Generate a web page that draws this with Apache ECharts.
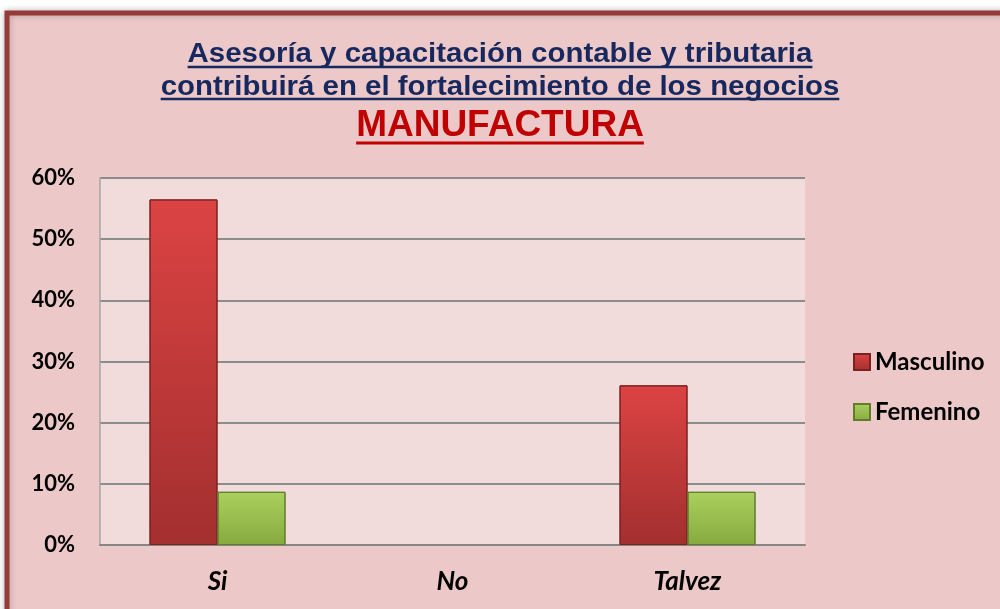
<!DOCTYPE html>
<html>
<head>
<meta charset="utf-8">
<script src="https://cdn.jsdelivr.net/npm/echarts@6/dist/echarts.min.js"></script>
<style>
  html, body { margin: 0; padding: 0; background: #fff; }
  #chart { width: 1000px; height: 609px; }
</style>
</head>
<body>
<div id="chart"></div>
<script>
(function() {
    // datos del grafico
    var categorias = ['Si', 'No', 'Talvez'];
    var masculino = [56.5, 0, 26.1];
    var femenino = [8.7, 0, 8.7];
    var titulo1 = 'Asesoría y capacitación contable y tributaria';
    var titulo2 = 'contribuirá en el fortalecimiento de los negocios';
    var titulo3 = 'MANUFACTURA';

    var chart = echarts.init(document.getElementById('chart'));

    // medir el texto para dibujar el subrayado
    var ctx = document.createElement('canvas').getContext('2d');
    function ancho(txt, font) {
        ctx.font = font;
        return ctx.measureText(txt).width;
    }
    var f1 = 'bold 27px "Liberation Sans"';
    var f3 = 'bold 37px "Liberation Sans"';
    var esc = 1.09; // el titulo original es algo mas ancho
    var w1 = ancho(titulo1, f1) * esc, w2 = ancho(titulo2, f1) * esc, w3 = ancho(titulo3, f3);

    function subrayado(w, y, color, grosor) {
        return {
            type: 'line',
            shape: { x1: 500 - w / 2, y1: y, x2: 500 + w / 2, y2: y },
            style: { stroke: color, lineWidth: grosor },
            z: 10
        };
    }
    function texto(txt, y, font, color, sx) {
        return {
            type: 'text',
            x: 500, y: y,
            scaleX: sx,
            style: { text: txt, font: font, fill: color, align: 'center', verticalAlign: 'middle' },
            z: 10
        };
    }

    // barras en cero no se dibujan
    function sinCero(arr) {
        return arr.map(function(v) {
            return v === 0 ? { value: 0, itemStyle: { borderWidth: 0, opacity: 0 } } : v;
        });
    }

    var option = {
        backgroundColor: '#ffffff',
        graphic: [
            {
                type: 'rect',
                shape: { x: 7, y: 13, width: 1010, height: 620 },
                style: { fill: '#ecc8c8', stroke: '#963a38', lineWidth: 5,
                         shadowBlur: 6, shadowColor: 'rgba(0,0,0,0.25)' },
                z: -10
            },
            texto(titulo1, 55, f1, '#17285e', esc),
            texto(titulo2, 88, f1, '#17285e', esc),
            texto(titulo3, 126, f3, '#c00000', 1),
            subrayado(w1, 67, '#17285e', 2.5),
            subrayado(w2, 99, '#17285e', 2.5),
            subrayado(w3, 143, '#c00000', 3)
        ],
        legend: {
            orient: 'vertical',
            left: 848,
            top: 345,
            itemWidth: 16,
            itemHeight: 16,
            itemGap: 26,
            icon: 'rect',
            textStyle: {
                fontFamily: 'Lato',
                fontWeight: 'bold',
                fontSize: 24,
                color: '#000'
            },
            data: ['Masculino', 'Femenino']
        },
        grid: {
            left: 100,
            top: 178,
            right: 195,
            bottom: 64,
            show: true,
            backgroundColor: '#f2dcdb',
            borderWidth: 0
        },
        xAxis: {
            type: 'category',
            data: categorias,
            axisTick: { show: false },
            axisLine: { lineStyle: { color: '#868686', width: 2 } },
            axisLabel: {
                margin: 24,
                fontFamily: 'Lato',
                fontWeight: 'bold',
                fontStyle: 'italic',
                fontSize: 26,
                color: '#000'
            }
        },
        yAxis: {
            type: 'value',
            min: 0,
            max: 60,
            interval: 10,
            axisLine: { show: true, lineStyle: { color: '#a6a6a6', width: 1.5 } },
            axisTick: { show: false },
            splitLine: { lineStyle: { color: '#8c8c8c', width: 2 } },
            axisLabel: {
                margin: 25,
                formatter: '{value}%',
                fontFamily: 'Lato',
                fontWeight: 'bold',
                fontSize: 22,
                color: '#000'
            }
        },
        series: [{
            name: 'Masculino',
            type: 'bar',
            data: sinCero(masculino),
            barWidth: 68,
            barGap: '0%',
            itemStyle: {
                color: new echarts.graphic.LinearGradient(0, 0, 0, 1, [
                    { offset: 0, color: '#dc4343' },
                    { offset: 1, color: '#a32f2f' }
                ]),
                borderColor: '#7a2222',
                borderWidth: 1
            }
        }, {
            name: 'Femenino',
            type: 'bar',
            data: sinCero(femenino),
            barWidth: 68,
            itemStyle: {
                color: new echarts.graphic.LinearGradient(0, 0, 0, 1, [
                    { offset: 0, color: '#acd05e' },
                    { offset: 1, color: '#86aa3e' }
                ]),
                borderColor: '#5f7d2a',
                borderWidth: 1
            }
        }]
    };

    chart.setOption(option);
})();
</script>
</body>
</html>
